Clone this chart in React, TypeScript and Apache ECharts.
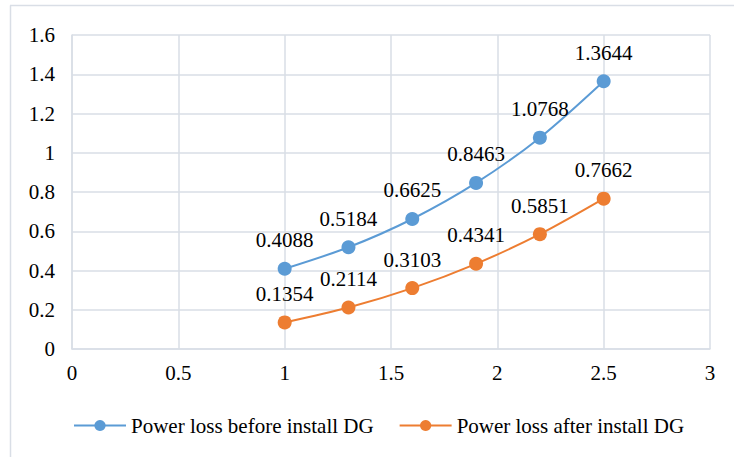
import React, { useEffect, useRef } from "react";
import * as echarts from "echarts";

const xValues = [1, 1.3, 1.6, 1.9, 2.2, 2.5];
const beforeDG = [0.4088, 0.5184, 0.6625, 0.8463, 1.0768, 1.3644];
const afterDG = [0.1354, 0.2114, 0.3103, 0.4341, 0.5851, 0.7662];
const seriesNames = ["Power loss before install DG", "Power loss after install DG"];

export default function App() {
  const ref = useRef<HTMLDivElement>(null);
  useEffect(() => {
    const chart = echarts.init(ref.current!, null, { renderer: "svg" });
    const font = "Liberation Serif";
    const fs = 21;
    const mk = (name: string, vals: number[], color: string) => ({
      name,
      type: "line",
      data: xValues.map((x, i) => [x, vals[i]]),
      smooth: 0.3,
      symbol: "circle",
      symbolSize: 14,
      lineStyle: { color, width: 2 },
      itemStyle: { color },
      label: {
        show: true,
        position: "top",
        distance: 11,
        color: "#000",
        fontFamily: font,
        fontSize: fs,
        formatter: (p: any) => p.value[1].toFixed(4),
      },
    });
    chart.setOption({
      animation: false,
      backgroundColor: "#fff",
      textStyle: { fontFamily: font },
      grid: { left: 72, right: 24, top: 35, bottom: 108 },
      xAxis: {
        type: "value",
        min: 0,
        max: 3,
        interval: 0.5,
        axisLine: { show: true, lineStyle: { color: "#D9DEE6", width: 1.5 } },
        axisTick: { show: false },
        splitLine: { show: true, lineStyle: { color: "#D9DEE6", width: 1.5 } },
        axisLabel: { color: "#000", fontSize: fs, fontFamily: font, margin: 13 },
      },
      yAxis: {
        type: "value",
        min: 0,
        max: 1.6,
        interval: 0.2,
        axisLine: { show: true, lineStyle: { color: "#D9DEE6", width: 1.5 } },
        axisTick: { show: false },
        splitLine: { show: true, lineStyle: { color: "#D9DEE6", width: 1.5 } },
        axisLabel: {
          color: "#000",
          fontSize: fs,
          fontFamily: font,
          margin: 17,
          formatter: (v: number) => String(Math.round(v * 10) / 10),
        },
      },
      legend: {
        top: 410,
        left: 68,
        itemWidth: 52,
        itemHeight: 14,
        itemGap: 25,
        textStyle: { color: "#000", fontSize: fs, fontFamily: font },
        data: seriesNames,
      },
      graphic: [
        {
          type: "line",
          shape: { x1: 10.5, y1: 5.5, x2: 10.5, y2: 457 },
          style: { stroke: "#D9DEE6", lineWidth: 1.5 },
        },
        {
          type: "line",
          shape: { x1: 10, y1: 5.5, x2: 734, y2: 5.5 },
          style: { stroke: "#D9DEE6", lineWidth: 1.5 },
        },
      ],
      series: [
        mk(seriesNames[0], beforeDG, "#5B9BD5"),
        mk(seriesNames[1], afterDG, "#ED7D31"),
      ],
    });
    return () => chart.dispose();
  }, []);
  return (
    <div
      ref={ref}
      style={{ position: "fixed", left: 0, top: 0, width: 734, height: 457 }}
    />
  );
}
